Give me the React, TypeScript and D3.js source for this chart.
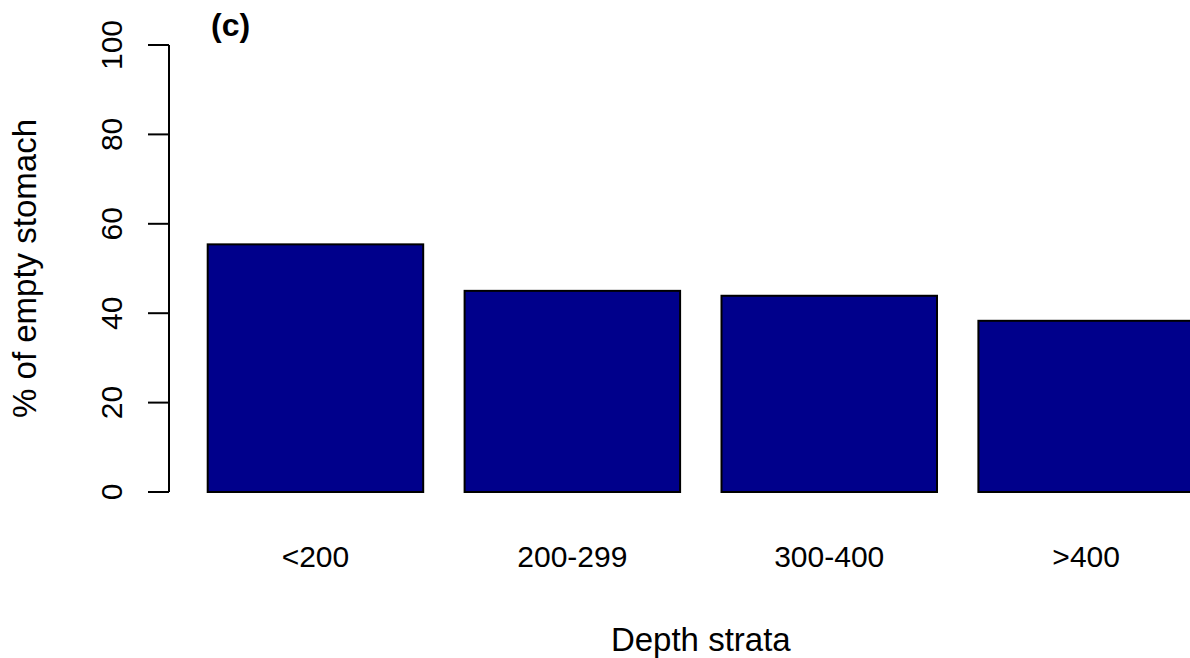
import React from "react";
import * as d3 from "d3";

// Percentage of empty stomachs by depth stratum
const categories: string[] = ["<200", "200-299", "300-400", ">400"];
const emptyPct: number[] = [55.4, 45.0, 43.9, 38.3];
const yTicks: number[] = [0, 20, 40, 60, 80, 100];

const W = 1190;
const H = 658;
const FONT = "'Liberation Sans', Arial, Helvetica, sans-serif";

export default function App() {
  const y = d3.scaleLinear().domain([0, 100]).range([492, 45]);

  const pitch = 256.9;
  const gap = 41.4;
  const x0 = 207.7;
  const x = d3
    .scaleBand<string>()
    .domain(categories)
    .range([x0, x0 + categories.length * pitch - gap])
    .paddingInner(gap / pitch)
    .paddingOuter(0);

  const axisX = 169;
  const plotMid = (x.range()[0] + x.range()[1]) / 2;

  return (
    <svg
      width={W}
      height={H}
      viewBox={`0 0 ${W} ${H}`}
      style={{ position: "absolute", left: 0, top: 0, background: "#ffffff" }}
    >
      <rect x={0} y={0} width={W} height={H} fill="#ffffff" />

      {/* bars */}
      {categories.map((c, i) => (
        <rect
          key={c}
          x={x(c)!}
          y={y(emptyPct[i])}
          width={x.bandwidth()}
          height={y(0) - y(emptyPct[i])}
          fill="#00008b"
          stroke="#000000"
          strokeWidth={2}
        />
      ))}

      {/* y axis */}
      <line
        x1={axisX}
        x2={axisX}
        y1={y(0)}
        y2={y(100)}
        stroke="#000"
        strokeWidth={2}
      />
      {yTicks.map((t) => (
        <g key={t}>
          <line
            x1={axisX - 21}
            x2={axisX}
            y1={y(t)}
            y2={y(t)}
            stroke="#000"
            strokeWidth={2}
          />
          <text
            transform={`translate(122,${y(t)}) rotate(-90)`}
            textAnchor="middle"
            fontFamily={FONT}
            fontSize={30}
            fill="#000"
          >
            {t}
          </text>
        </g>
      ))}

      {/* category labels */}
      {categories.map((c) => (
        <text
          key={c}
          x={x(c)! + x.bandwidth() / 2}
          y={567}
          textAnchor="middle"
          fontFamily={FONT}
          fontSize={30}
          fill="#000"
        >
          {c}
        </text>
      ))}

      {/* axis titles */}
      <text
        x={plotMid}
        y={651}
        textAnchor="middle"
        fontFamily={FONT}
        fontSize={33}
        fill="#000"
      >
        Depth strata
      </text>
      <text
        transform={`translate(36,${(y(0) + y(100)) / 2}) rotate(-90)`}
        textAnchor="middle"
        fontFamily={FONT}
        fontSize={33}
        fill="#000"
      >
        % of empty stomach
      </text>

      {/* panel tag */}
      <text
        x={211}
        y={36}
        fontFamily={FONT}
        fontSize={32}
        fontWeight="bold"
        fill="#000"
      >
        (c)
      </text>
    </svg>
  );
}
